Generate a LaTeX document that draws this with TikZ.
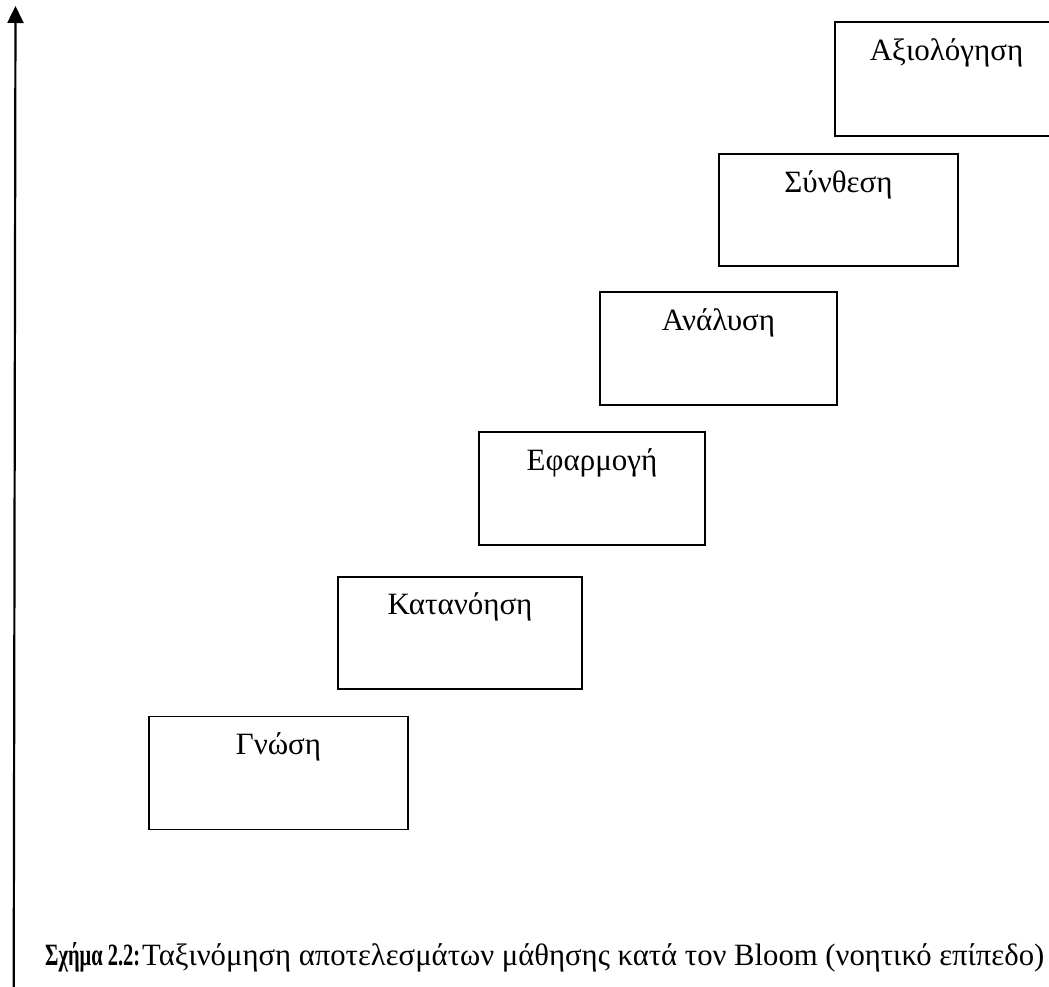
\documentclass[tikz,border=0pt]{standalone}
\usepackage{fontspec}
\setmainfont{Liberation Serif}
\usetikzlibrary{arrows.meta}
\begin{document}
\begin{tikzpicture}[x=1pt,y=-1pt,
  levelbox/.style={draw=black, line width=1.7pt, rectangle, inner sep=0pt},
  leveltext/.style={anchor=base, inner sep=0pt, font=\fontsize{31}{36}\selectfont},
  axis/.style={line width=2.2pt, -{Triangle[width=16pt,length=17pt]}}]
\useasboundingbox (0,0) rectangle (1049,987);
\clip (0,0) rectangle (1049,987);
\fill[white] (0,0) rectangle (1049,987);

% vertical axis
\coordinate (axbot) at (13.7,990);
\coordinate (axtop) at (15.5,6);
\draw[axis] (axbot) -- (axtop);

% the six levels, each box with its name near the top
\node[levelbox, minimum width=259pt, minimum height=113pt] (gnosi) at (278.5,773) {};
\node[leveltext] at ([yshift=-39pt]gnosi.north) {Γνώση};

\node[levelbox, minimum width=244pt, minimum height=112pt] (katanoisi) at (460,633) {};
\node[leveltext] at ([yshift=-38pt]katanoisi.north) {Κατανόηση};

\node[levelbox, minimum width=226pt, minimum height=113pt] (efarmogi) at (592,488.5) {};
\node[leveltext] at ([yshift=-39pt]efarmogi.north) {Εφαρμογή};

\node[levelbox, minimum width=237pt, minimum height=113pt] (analysi) at (718.5,348.5) {};
\node[leveltext] at ([yshift=-39pt]analysi.north) {Ανάλυση};

\node[levelbox, minimum width=239pt, minimum height=112pt] (synthesi) at (838.5,210) {};
\node[leveltext] at ([yshift=-39pt]synthesi.north) {Σύνθεση};

\node[levelbox, minimum width=223pt, minimum height=114pt] (axiologisi) at (946.5,79) {};
\node[leveltext] at ([yshift=-39pt]axiologisi.north) {Αξιολόγηση};

% caption, with a condensed bold label
\node[anchor=base west, inner sep=0pt, font=\fontsize{31}{36}\selectfont] (caption) at (45,965)
  {\scalebox{0.66}[1]{\textbf{Σχήμα 2.2:}}\hspace{2pt}\scalebox{0.99}[1]{Ταξινόμηση αποτελεσμάτων μάθησης κατά τον Bloom (νοητικό επίπεδο)}};
\end{tikzpicture}
\end{document}
